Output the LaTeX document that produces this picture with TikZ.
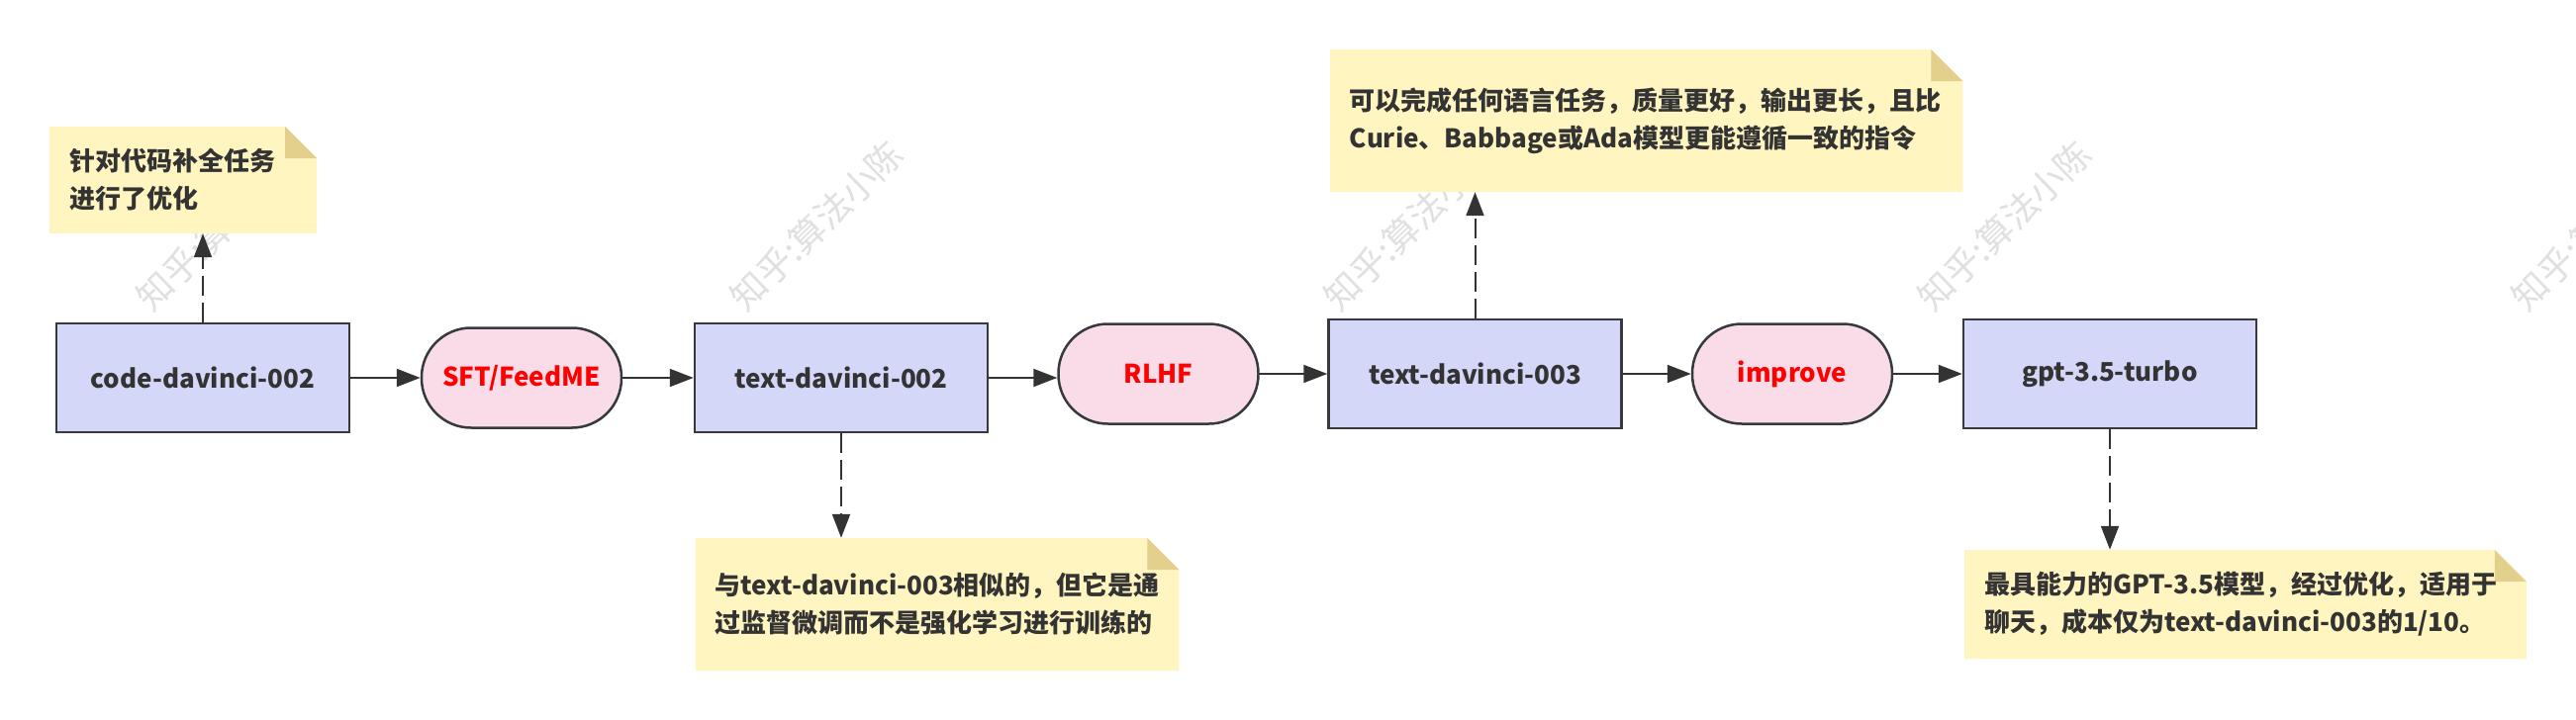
\documentclass[tikz,border=0pt]{standalone}
\usepackage{fontspec}
\setmainfont{Noto Sans CJK SC}
\usetikzlibrary{arrows.meta}
\definecolor{boxfill}{RGB}{212,215,247}
\definecolor{boxline}{RGB}{54,57,61}
\definecolor{stagefill}{RGB}{250,220,233}
\definecolor{memofill}{RGB}{255,245,192}
\definecolor{foldfill}{RGB}{226,208,140}
\definecolor{txt}{RGB}{51,51,51}
\definecolor{wmcol}{RGB}{224,224,224}
\tikzset{
  model/.style={draw=boxline,line width=2.5pt,fill=boxfill,text=txt,minimum width=296pt,minimum height=110pt},
  stage/.style={draw=boxline,line width=2.5pt,fill=stagefill,text=red,rounded corners=50pt,minimum width=202pt,minimum height=101pt},
  memo/.style={inner xsep=20pt,inner ysep=0pt,align=left,text=txt,
    path picture={
      \fill[memofill] (path picture bounding box.south west) -- (path picture bounding box.north west)
        -- ([xshift=-32pt]path picture bounding box.north east) -- ([yshift=-32pt]path picture bounding box.north east)
        -- (path picture bounding box.south east) -- cycle;
      \fill[foldfill] ([xshift=-32pt]path picture bounding box.north east) -- ([xshift=-32pt,yshift=-32pt]path picture bounding box.north east)
        -- ([yshift=-32pt]path picture bounding box.north east) -- cycle;}},
  flow/.style={draw=txt,line width=2pt,-{Triangle[length=24pt,width=18pt]}},
  hint/.style={flow,dash pattern=on 20pt off 7pt},
  wmark/.style={text=wmcol,rotate=44,font=\fontsize{36}{40}\selectfont}
}
\begin{document}
\begin{tikzpicture}[x=1pt,y=-1pt,every node/.style={font=\bfseries\fontsize{26}{38}\selectfont}]
 \fill[white] (0,0) rectangle (2603,728);
 \useasboundingbox (0,0) rectangle (2603,728);
 \foreach \k in {0,...,4}
   \node[wmark] (wm\k) at (225+600*\k,228) {知乎:算法小陈};

 \node[model] (code) at (205,382) {code-davinci-002};
 \node[stage] (sft) at (527,382) {SFT/FeedME};
 \node[model] (td2) at (850,382) {text-davinci-002};
 \node[stage] (rlhf) at (1170.5,378) {RLHF};
 \node[model] (td3) at (1490.5,378) {text-davinci-003};
 \node[stage] (impr) at (1811,378) {improve};
 \node[model] (gpt) at (2132,378) {gpt-3.5-turbo};

 \node[memo,text width=230pt,minimum height=108pt] (n1) at (185,182) {针对代码补全任务\\进行了优化};
 \node[memo,text width=448.5pt,minimum height=134pt] (n2) at (947.2,611) {\mbox{与text-davinci-003相似的，但它是通}\\过监督微调而不是强化学习进行训练的};
 \node[memo,text width=599.5pt,minimum height=144pt] (n3) at (1663.7,122) {\mbox{可以完成任何语言任务，质量更好，输出更长，且比}\\Curie、Babbage或Ada模型更能遵循一致的指令};
 \node[memo,text width=527.7pt,minimum height=110pt] (n4) at (2268.9,611) {\mbox{最具能力的GPT-3.5模型，经过优化，适用于}\\聊天，成本仅为text-davinci-003的1/10。};

 \draw[flow] (code) -- (sft);
 \draw[flow] (sft) -- (td2);
 \draw[flow] (td2.east) -- (td2.east -| rlhf.west);
 \draw[flow] (rlhf) -- (td3);
 \draw[flow] (td3) -- (impr);
 \draw[flow] (impr) -- (gpt);

 \draw[hint] (code.north) -- (code.north |- n1.south);
 \draw[hint] (td2.south) -- (td2.south |- n2.north);
 \draw[hint] (td3.north) -- (td3.north |- n3.south);
 \draw[hint] (gpt.south) -- (gpt.south |- n4.north);
\end{tikzpicture}
\end{document}
